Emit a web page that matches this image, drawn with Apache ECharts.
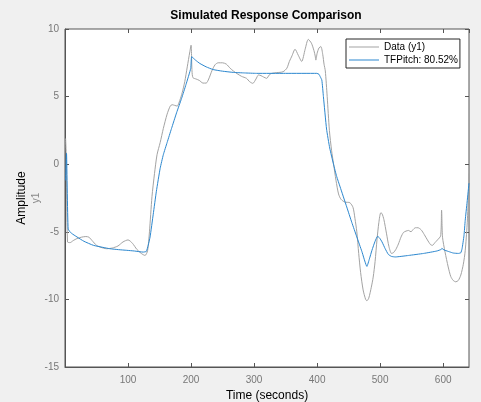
<!DOCTYPE html>
<html>
<head>
<meta charset="utf-8">
<script src="https://cdn.jsdelivr.net/npm/echarts@6/dist/echarts.min.js"></script>
<style>
  html, body { margin: 0; padding: 0; background: #f0f0f0; }
  #chart { width: 481px; height: 402px; }
</style>
</head>
<body>
<div id="chart"></div>
<script>
// measured data (gray)
const dataTime = [1, 2, 4, 8, 13, 19, 26, 33, 38, 43, 50, 57, 66, 75, 84, 92, 100, 107, 114, 121, 127, 131, 134, 138, 142, 146, 151, 156, 162, 167, 170, 174, 178, 182, 186, 190, 194, 198, 200, 201.5, 203, 208, 213, 219, 224, 228, 233, 238, 243, 250, 256, 262, 267, 273, 280, 288, 293, 298, 303, 307, 311, 315, 320, 324, 328, 336, 346, 352, 356, 360, 365, 370, 375.5, 381, 386, 391, 395, 397, 398, 400, 403, 406, 409, 411, 413, 416, 419.5, 423, 426, 430, 434, 438, 444, 452, 457, 460, 463, 466, 469, 473, 477, 479, 482, 486, 489, 492, 495, 498, 501, 503, 506, 510, 514, 518, 521, 525, 529, 533, 537, 541, 545, 549, 552, 556, 560, 565, 570, 575, 580, 583, 587, 591, 596, 597.5, 599, 603, 608, 612, 616, 620, 624, 628, 632, 635, 638, 640, 641];
const dataAmp = [1.9, 0.6, -5.75, -5.8, -5.65, -5.5, -5.4, -5.35, -5.4, -5.65, -6.0, -6.15, -6.25, -6.2, -6.05, -5.75, -5.6, -5.85, -6.3, -6.6, -6.75, -6.4, -5.0, -2.4, -0.7, 0.7, 1.6, 2.64, 3.7, 4.3, 4.4, 4.35, 4.3, 4.7, 5.3, 6.1, 7.2, 8.3, 8.8, 6.9, 6.4, 6.3, 6.2, 6.0, 6.0, 6.3, 6.9, 7.35, 7.5, 7.5, 7.4, 7.1, 6.9, 6.7, 6.5, 6.35, 6.1, 5.98, 6.3, 6.6, 6.55, 6.45, 6.35, 6.6, 6.72, 6.77, 6.84, 7.1, 7.6, 8.0, 8.5, 8.07, 7.6, 8.5, 9.23, 8.95, 8.4, 8.0, 7.7, 8.2, 8.6, 8.7, 8.1, 7.4, 6.9, 5.0, 2.5, 1.0, 0.05, -1.2, -2.2, -2.6, -2.8, -2.85, -3.2, -4.0, -5.0, -6.6, -8.0, -9.3, -10.0, -10.1, -9.9, -9.1, -8.35, -7.2, -5.6, -4.3, -3.6, -3.65, -4.1, -5.1, -6.1, -6.6, -6.55, -6.3, -5.9, -5.4, -5.05, -4.95, -4.9, -5.0, -4.85, -4.7, -4.7, -4.85, -5.2, -5.6, -5.95, -6.0, -5.8, -5.6, -5.3, -3.4, -5.4, -6.5, -7.6, -8.3, -8.6, -8.7, -8.6, -8.2, -7.4, -6.4, -4.5, -2.5, -0.7];

// simulated model response (blue)
const fitTime = [1, 2.4, 5, 10, 19, 30, 45, 60, 71, 85, 98, 110, 124, 129, 132, 135, 140, 145, 151, 156, 162, 169, 177, 185, 192, 199.5, 201, 207, 214, 224, 235, 250, 267, 285, 304, 350, 399.5, 403, 405, 407.5, 410, 415, 420, 426, 431, 436.5, 447, 455, 463, 471, 479, 483, 487, 492, 496, 499, 503, 508, 513, 518, 524, 545, 569, 590, 597, 598, 600, 603, 610, 616, 624, 628, 630, 633, 635, 638, 641];
const fitAmp = [-1.2, 0.8, -4.8, -5.1, -5.38, -5.7, -6.0, -6.15, -6.25, -6.32, -6.37, -6.42, -6.5, -6.45, -6.0, -5.38, -3.7, -2.0, -0.3, 0.7, 1.6, 2.64, 3.8, 4.87, 5.9, 7.09, 7.95, 7.7, 7.45, 7.2, 7.0, 6.88, 6.79, 6.75, 6.72, 6.72, 6.72, 6.65, 6.47, 6.22, 5.0, 2.6, 1.2, 0.0, -0.9, -1.68, -3.16, -4.3, -5.38, -6.45, -7.56, -7.0, -6.37, -5.7, -5.33, -5.45, -5.75, -6.25, -6.67, -6.82, -6.86, -6.75, -6.6, -6.42, -6.3, -6.22, -6.3, -6.37, -6.48, -6.57, -6.6, -6.55, -6.25, -5.3, -4.15, -2.8, -1.4];

const seriesNames = ['Data (y1)', 'TFPitch: 80.52%'];
const yTicks = [-15, 10, 5];   // min, max, step
const xTicks = [0, 641, 100];

const font = 'Liberation Sans, Arial, Helvetica, sans-serif';
const chart = echarts.init(document.getElementById('chart'));

// mirrored box ticks (top / right), MATLAB style
const hiddenAxis = {
    axisLabel: { show: false },
    axisLine: { show: false, onZero: false },
    splitLine: { show: false },
    axisTick: { show: true, inside: true, length: 4, lineStyle: { color: '#555' } }
};

chart.setOption({
    backgroundColor: '#f0f0f0',
    animation: false,
    textStyle: { fontFamily: font },
    grid: {
        left: 65, right: 12, top: 29, bottom: 35,
        outerBoundsMode: 'none',
        show: true, backgroundColor: '#fff', borderColor: '#555', borderWidth: 1
    },
    graphic: [
        { type: 'text', x: 266, y: 16,
          style: { text: 'Simulated Response Comparison', font: 'bold 12px ' + font, fill: '#000',
                   textAlign: 'center', textVerticalAlign: 'middle' } },
        { type: 'text', x: 22, y: 198, rotation: Math.PI / 2,
          style: { text: 'Amplitude', font: '12px ' + font, fill: '#000',
                   textAlign: 'center', textVerticalAlign: 'middle' } },
        { type: 'text', x: 36, y: 198, rotation: Math.PI / 2,
          style: { text: 'y1', font: '10px ' + font, fill: '#888',
                   textAlign: 'center', textVerticalAlign: 'middle' } }
    ],
    legend: {
        orient: 'vertical',
        left: 346, top: 39,
        padding: [3, 2, 3, 3],
        itemGap: 3,
        icon: 'rect',
        itemWidth: 30, itemHeight: 1,
        backgroundColor: '#fff',
        borderColor: '#262626', borderWidth: 1, borderRadius: 0,
        textStyle: { fontSize: 10, color: '#000', lineHeight: 10 },
        data: seriesNames
    },
    xAxis: [{
        type: 'value',
        min: xTicks[0], max: xTicks[1], interval: xTicks[2],
        name: 'Time (seconds)',
        nameLocation: 'middle', nameGap: 22,
        nameTextStyle: { fontSize: 12, color: '#000' },
        axisLine: { onZero: false, lineStyle: { color: '#555' } },
        axisTick: { inside: true, length: 4, lineStyle: { color: '#555' } },
        axisLabel: { fontSize: 10, color: '#777', margin: 8, showMinLabel: false, showMaxLabel: false },
        splitLine: { show: false }
    }, Object.assign({
        type: 'value', position: 'top',
        min: xTicks[0], max: xTicks[1], interval: xTicks[2]
    }, hiddenAxis)],
    yAxis: [{
        type: 'value',
        min: yTicks[0], max: yTicks[1], interval: yTicks[2],
        axisLine: { show: true, onZero: false, lineStyle: { color: '#555' } },
        axisTick: { show: true, inside: true, length: 4, lineStyle: { color: '#555' } },
        axisLabel: { fontSize: 10, color: '#777', margin: 6 },
        splitLine: { show: false }
    }, Object.assign({
        type: 'value', position: 'right',
        min: yTicks[0], max: yTicks[1], interval: yTicks[2]
    }, hiddenAxis)],
    series: [{
        name: seriesNames[0],
        type: 'line',
        symbol: 'none',
        smooth: 0.25,
        data: dataTime.map((t, i) => [t, dataAmp[i]]),
        lineStyle: { color: '#a3a3a3', width: 1 },
        itemStyle: { color: '#a3a3a3' }
    }, {
        name: seriesNames[1],
        type: 'line',
        symbol: 'none',
        smooth: 0.15,
        data: fitTime.map((t, i) => [t, fitAmp[i]]),
        lineStyle: { color: '#2b87cf', width: 1 },
        itemStyle: { color: '#2b87cf' }
    }]
});
</script>
</body>
</html>
